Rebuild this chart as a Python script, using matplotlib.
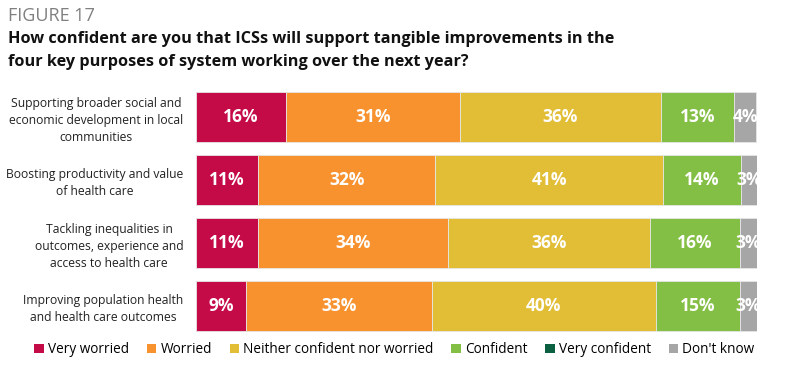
import matplotlib
matplotlib.use("Agg")
import matplotlib.pyplot as plt
from matplotlib.patches import Patch
import numpy as np

plt.rcParams["font.family"] = ["Open Sans", "DejaVu Sans"]

# data
categories = [
    "Supporting broader social and\neconomic development in local\ncommunities",
    "Boosting productivity and value\nof health care",
    "Tackling inequalities in\noutcomes, experience and\naccess to health care",
    "Improving population health\nand health care outcomes",
]
series = ["Very worried", "Worried", "Neither confident nor worried",
          "Confident", "Very confident", "Don't know"]
very_worried = [16.0, 11.0, 11.0, 9.0]
worried = [31.0, 31.7, 34.0, 33.0]
neither = [36.0, 40.6, 36.0, 40.0]
confident = [13.0, 13.9, 16.0, 15.0]
very_confident = [0.0, 0.0, 0.0, 0.0]
dont_know = [3.9, 2.8, 3.0, 3.0]
colors = ["#C40A47", "#F7922F", "#E2BD36", "#84BF45", "#0A6041", "#A6A6A6"]

values = np.array([very_worried, worried, neither, confident,
                   very_confident, dont_know])

fig = plt.figure(figsize=(8, 3.73), dpi=100)
ax = fig.add_axes([0.245, 0.0952, 0.701, 0.6756])

y = np.arange(len(categories))
left = np.zeros(len(categories))
for i, name in enumerate(series):
    vals = values[i]
    ax.barh(y, vals, left=left, height=0.79, color=colors[i],
            edgecolor="#E6E6E6", linewidth=0.6, label=name)
    for j, v in enumerate(vals):
        if v > 0:
            ax.text(left[j] + v / 2, y[j], f"{round(v)}%", ha="center",
                    va="center", color="white", fontsize=12.5,
                    fontweight="bold", clip_on=True)
    left += vals

ax.set_xlim(0, 100)
ax.set_ylim(3.5, -0.5)
ax.set_yticks(y)
ax.set_yticklabels(categories, fontsize=8.7, multialignment="center",
                   color="#222222", linespacing=1.4)
ax.tick_params(axis="y", length=0, pad=9)
ax.set_xticks([])
for s in ax.spines.values():
    s.set_visible(False)

fig.text(0.01, 0.957, "FIGURE 17", fontsize=13, color="#808080",
         va="center")
fig.text(0.01, 0.918, "How confident are you that ICSs will support tangible "
         "improvements in the\nfour key purposes of system working over "
         "the next year?", fontsize=11.7, fontweight="bold", va="top",
         linespacing=1.6, color="#111111")

handles = [Patch(facecolor=c, edgecolor="none") for c in colors]
fig.legend(handles, series, loc="center", bbox_to_anchor=(0.493, 0.062),
           ncol=6, frameon=False, fontsize=9.8, handlelength=0.7,
           handleheight=0.7, handletextpad=0.3, columnspacing=1.3)

fig.savefig("out.png", dpi=100)
